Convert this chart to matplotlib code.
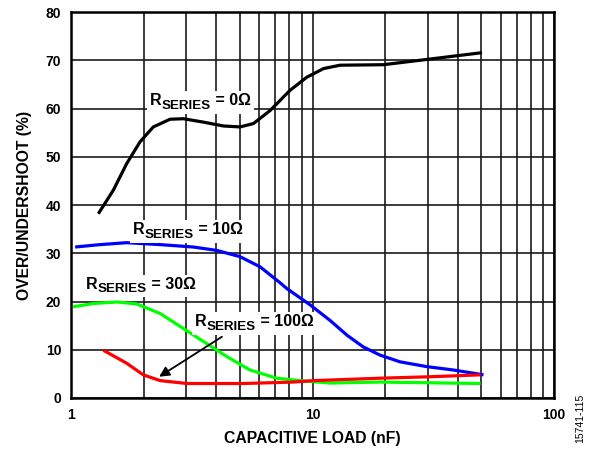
import matplotlib
matplotlib.use("Agg")
import matplotlib.pyplot as plt
from matplotlib.ticker import FixedLocator, NullFormatter
from matplotlib.transforms import offset_copy
from matplotlib.patches import Rectangle

plt.rcParams['font.family'] = ['Liberation Sans', 'DejaVu Sans']

# curves (capacitive load nF, overshoot %)
r0_x = [1.297, 1.497, 1.70, 1.93, 2.19, 2.57, 2.92, 3.53, 4.27, 5.01, 5.69, 6.67, 8.07, 9.46, 11.1, 13.0, 19.6, 29.8, 50.3]
r0_y = [38.2, 43.1, 48.6, 53.1, 56.2, 57.8, 57.9, 57.2, 56.4, 56.2, 56.9, 59.6, 63.8, 66.5, 68.3, 69.0, 69.1, 70.2, 71.6]

r10_x = [1.04, 1.32, 1.70, 2.34, 3.21, 4.01, 5.01, 6.06, 7.33, 7.82, 9.77, 11.8, 13.9, 16.2, 19.0, 23.0, 29.7, 38.3, 51.0]
r10_y = [31.3, 31.8, 32.2, 31.8, 31.3, 30.6, 29.3, 27.2, 23.9, 22.7, 19.3, 16.1, 13.0, 10.6, 8.9, 7.5, 6.5, 5.8, 4.8]

r30_x = [1.02, 1.24, 1.55, 1.87, 2.34, 2.92, 3.64, 4.41, 5.51, 7.1, 8.9, 11.8, 19.0, 49.6]
r30_y = [18.9, 19.6, 19.9, 19.5, 17.5, 14.4, 11.3, 8.6, 5.8, 4.1, 3.6, 3.1, 3.3, 3.0]

r100_x = [1.36, 1.70, 1.99, 2.34, 3.02, 5.17, 8.30, 10.1, 19.0, 30.6, 49.6]
r100_y = [9.9, 7.2, 4.8, 3.6, 3.0, 3.0, 3.3, 3.6, 4.1, 4.4, 4.8]

x_ticks = [1, 10, 100]
y_ticks = [0, 10, 20, 30, 40, 50, 60, 70, 80]

# label text and where its baseline starts (data coords)
labels = [('0Ω', 2.124, 60.7), ('10Ω', 1.801, 33.9), ('30Ω', 1.154, 22.7), ('100Ω', 3.263, 14.9)]

fig = plt.figure(figsize=(5.92, 4.5), dpi=100)
ax = fig.add_axes([0.12, 0.1156, 0.816, 0.8574])

ax.set_xscale('log')
ax.set_xlim(1, 100)
ax.set_ylim(0, 80)
ax.xaxis.set_major_locator(FixedLocator(x_ticks))
ax.xaxis.set_minor_locator(FixedLocator([m * d for d in (1, 10) for m in range(2, 10)]))
ax.xaxis.set_minor_formatter(NullFormatter())
ax.set_xticklabels([str(t) for t in x_ticks])
ax.set_yticks(y_ticks)
ax.tick_params(which='both', length=0, labelsize=10, pad=7)
for lab in ax.get_xticklabels() + ax.get_yticklabels():
    lab.set_fontweight('bold')
ax.grid(True, which='both', color='#1a1a1a', linewidth=1.2)
ax.set_axisbelow(True)
for s in ax.spines.values():
    s.set_linewidth(1.8)

lw = 2.3
style = dict(lw=lw, solid_joinstyle='round', solid_capstyle='butt')
ax.plot(r0_x, r0_y, color='black', zorder=3, **style)
ax.plot(r10_x, r10_y, color='#0000ff', zorder=3, **style)
ax.plot(r30_x, r30_y, color='#00ff00', zorder=3, **style)
ax.plot(r100_x, r100_y, color='#ff0000', zorder=4, **style)

# R with a big subscript, built from three text pieces
fig.canvas.draw()
renderer = fig.canvas.get_renderer()
for val, lx, ly in labels:
    t1 = ax.text(lx, ly, 'R', fontsize=11.5, fontweight='bold', va='baseline', zorder=6)
    w1 = t1.get_window_extent(renderer).width
    t2 = ax.text(lx, ly, 'SERIES', fontsize=9.6, fontweight='bold', va='baseline', zorder=6,
                 transform=offset_copy(ax.transData, fig, x=w1, y=-3.5, units='dots'))
    w2 = t2.get_window_extent(renderer).width
    t3 = ax.text(lx, ly, ' = ' + val, fontsize=11.5, fontweight='bold', va='baseline', zorder=6,
                 transform=offset_copy(ax.transData, fig, x=w1 + w2, y=0, units='dots'))
    bbs = [t.get_window_extent(renderer) for t in (t1, t2, t3)]
    x0 = min(b.x0 for b in bbs) - 3
    x1 = max(b.x1 for b in bbs) + 3
    y0 = min(b.y0 for b in bbs) - 2
    y1 = max(b.y1 for b in bbs) + 2
    ax.add_patch(Rectangle((x0, y0), x1 - x0, y1 - y0, transform=None,
                           facecolor='white', edgecolor='none', zorder=5))

ax.annotate('', xy=(2.265, 4.1), xytext=(4.31, 13.0),
            arrowprops=dict(arrowstyle='-|>', color='black', lw=1.3, mutation_scale=15), zorder=7)

ax.set_xlabel('CAPACITIVE LOAD (nF)', fontsize=11.3, fontweight='bold', labelpad=7)
ax.set_ylabel('OVER/UNDERSHOOT (%)', fontsize=11.3, fontweight='bold', labelpad=10)

fig.text(0.98, 0.07, '15741-115', rotation=90, fontsize=7.5, ha='center', va='center')

fig.savefig('out.png', dpi=100)
